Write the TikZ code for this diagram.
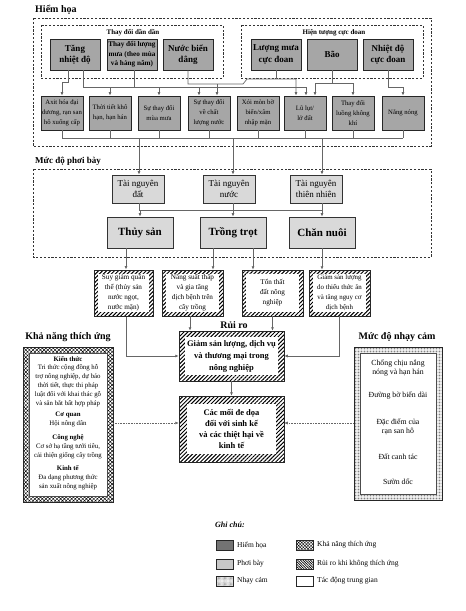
\documentclass[tikz,border=0pt]{standalone}
\usepackage{fontspec}
\setmainfont{Liberation Serif}
\usetikzlibrary{arrows.meta,patterns.meta}
\newcommand\fsz[2]{\fontsize{#1}{#2}\selectfont}
\begin{document}
\begin{tikzpicture}[x=1pt,y=1pt,
  frame/.style={draw=black!80, line width=0.8pt, dash pattern=on 2.2pt off 1.6pt},
  conn/.style={draw=black!60, line width=0.7pt},
  arr/.style={conn, -{Latex[length=3.5pt,width=3pt]}},
  dotarr/.style={draw=black!60, line width=0.6pt, dash pattern=on 0.8pt off 0.8pt, -{Latex[length=3.5pt,width=3pt]}},
  hz/.style={draw=black!85, line width=0.8pt, fill=black!35, align=center, inner sep=0.5pt, font=\bfseries\fsz{9}{11.5}, minimum width=50pt, minimum height=31pt},
  hzs/.style={draw=black!85, line width=0.8pt, fill=black!35, align=center, inner sep=0.3pt, font=\fsz{6.7}{9.8}, minimum width=42pt, minimum height=34pt},
  ex/.style={draw=black!80, line width=0.7pt, fill=black!15, align=center, inner sep=0.5pt, font=\fsz{9}{11.5}, minimum width=52pt, minimum height=28pt},
  exb/.style={ex, font=\bfseries\fsz{11}{13}, minimum width=66pt, minimum height=31pt},
  band/.style={path picture={\fill[white] ([shift={(#1,-#1)}]path picture bounding box.north west) rectangle ([shift={(-#1,#1)}]path picture bounding box.south east);}},
  bandd/.style={path picture={\filldraw[fill=white, draw=black!70, line width=0.4pt] ([shift={(#1,-#1)}]path picture bounding box.north west) rectangle ([shift={(-#1,#1)}]path picture bounding box.south east);}},
  risk/.style={draw=black!85, line width=0.5pt, pattern={Lines[angle=45,distance=2.8pt,line width=1pt]}, band=4pt, align=center, inner sep=0pt, font=\fsz{7.2}{10}, minimum width=61pt, minimum height=46pt},
  riskb/.style={risk, font=\bfseries\fsz{8.5}{12}, minimum width=105pt},
  knbox/.style={draw=black!85, line width=0.5pt, pattern={Hatch[angle=45,distance=2.6pt,line width=0.45pt]}, bandd=6pt, minimum width=90pt, minimum height=155pt, inner sep=0pt},
  ncbox/.style={draw=black!85, line width=0.5pt, pattern={Dots[distance=1.5pt,radius=0.45pt]}, pattern color=black!75, bandd=6pt, minimum width=88pt, minimum height=153pt, inner sep=0pt},
  knt/.style={align=center, inner sep=0pt, font=\fsz{6.8}{8.8}},
  nct/.style={align=center, inner sep=0pt, font=\fsz{7.8}{9.5}},
  title/.style={font=\bfseries\fsz{10}{12}, inner sep=0pt},
  lab/.style={font=\bfseries\fsz{7}{8}, inner sep=0pt},
  sw/.style={draw=black!85, line width=0.5pt, minimum width=17pt, minimum height=10pt, inner sep=0pt},
  lt/.style={font=\fsz{7.5}{9}, anchor=west, inner sep=0pt}
]
\useasboundingbox (0,0) rectangle (466,-611);

% ---------------- Hiem hoa ----------------
\node[title, anchor=west] (tHz) at (35,-10) {Hiểm họa};
\draw[frame] (33,-18) rectangle (431,-146);
\draw[frame] (41,-25) rectangle (223,-78);
\draw[frame] (241,-25) rectangle (423,-78);
\node[lab] (lGrad) at (133,-32.5) {Thay đổi dần dần};
\node[lab] (lExt) at (334,-32.5) {Hiện tượng cực đoan};

\node[hz] (tang) at (75,-54.5) {Tăng\\nhiệt độ};
\node[hz, font=\bfseries\fsz{7.2}{9.4}] (luongmua) at (132,-54.5) {Thay đổi lượng\\mưa (theo mùa\\và hàng năm)};
\node[hz] (nuocbien) at (188,-54.5) {Nước biển\\dâng};
\node[hz] (mucd) at (276,-54.5) {Lượng mưa\\cực đoan};
\node[hz] (bao) at (332,-54.5) {Bão};
\node[hz] (nhietcd) at (388,-54.5) {Nhiệt độ\\cực đoan};

\node[hzs] (r1) at (62,-113) {Axit hóa đại\\dương, rạn san\\hô xuống cấp};
\node[hzs] (r2) at (110,-113) {Thời tiết khô\\hạn, hạn hán};
\node[hzs] (r3) at (159,-113) {Sự thay đổi\\mùa mưa};
\node[hzs] (r4) at (209,-113) {Sự thay đổi\\về chất\\lượng nước};
\node[hzs] (r5) at (258,-113) {Xói mòn bờ\\biển/xâm\\nhập mặn};
\node[hzs] (r6) at (305,-113) {Lũ lụt/\\lở đất};
\node[hzs] (r7) at (353,-113) {Thay đổi\\luồng không\\khí};
\node[hzs] (r8) at (403,-113) {Nắng nóng};

\coordinate (r4a) at ([xshift=-10pt]r4.north);
\coordinate (r4b) at ([xshift=8pt]r4.north);
\coordinate (r6a) at ([xshift=-9pt]r6.north);
\coordinate (r6b) at ([xshift=1pt]r6.north);
\coordinate (r6c) at ([xshift=10pt]r6.north);

\draw[arr] ([xshift=-7pt]tang.south) -- ++(0,-12) -| (r1.north);
\draw[arr] ([xshift=8pt]tang.south) |- (r6b |- 0,-87) -- (r6b);
\draw[conn] ([xshift=2pt]luongmua.south) -- ++(0,-17);
\draw[arr] (r2.north |- 0,-87) -- (r2.north);
\draw[arr] (r3.north |- 0,-87) -- (r3.north);
\draw[arr] (r4a |- 0,-87) -- (r4a);
\draw[arr] (nuocbien.south) |- (243,-84) -- (247,-79) -| (r6a);
\draw[arr] (r4b |- 0,-84) -- (r4b);
\draw[conn] (mucd.south) -- (mucd.south |- 0,-79);
\draw[conn] (bao.south) -- (bao.south |- 0,-83);
\draw[arr] (bao.south |- 0,-83) -| (r6c);
\draw[arr] (bao.south |- 0,-83) -| (r7.north);
\draw[arr] (nhietcd.south) |- (r8.north |- 0,-87) -- (r8.north);

\foreach \n in {r1,r2,r3,r4,r5,r6,r7,r8}
  \draw[conn] (\n.south) -- (\n.south |- 0,-138);
\draw[conn] (r1.south |- 0,-138) -- (r8.south |- 0,-138);

% ---------------- Muc do phoi bay ----------------
\node[title, anchor=west, font=\bfseries\fsz{9}{11}] (tEx) at (35,-161.5) {Mức độ phơi bày};
\draw[frame] (33,-169) rectangle (431,-257);

\node[ex] (tn1) at (138,-189) {Tài nguyên\\đất};
\node[ex] (tn2) at (229,-189) {Tài nguyên\\nước};
\node[ex] (tn3) at (316,-189) {Tài nguyên\\thiên nhiên};
\coordinate (tn1a) at ([xshift=1pt]tn1.north);
\coordinate (tn2a) at ([xshift=4pt]tn2.north);
\coordinate (tn3a) at ([xshift=6pt]tn3.north);
\draw[arr] (tn1a |- 0,-138) -- (tn1a);
\draw[arr] (tn2a |- 0,-138) -- (tn2a);
\draw[arr] (tn3a |- 0,-138) -- (tn3a);

\node[exb] (thuysan) at (140,-232.5) {Thủy sản};
\node[exb] (trongtrot) at (233,-232.5) {Trồng trọt};
\node[exb] (channuoi) at (322,-232.5) {Chăn nuôi};

\coordinate (tn1b) at ([xshift=1pt]tn1.south);
\coordinate (tn2b) at ([xshift=4pt]tn2.south);
\coordinate (tn3b) at ([xshift=6pt]tn3.south);
\draw[conn] (tn1b) -- (tn1b |- 0,-210);
\draw[conn] (tn2b) -- (tn2b |- 0,-210);
\draw[conn] (tn3b) -- (tn3b |- 0,-210);
\draw[conn] (tn1b |- 0,-210) -- (tn3b |- 0,-210);
\draw[arr] (thuysan.north |- 0,-210) -- (thuysan.north);
\draw[arr] (trongtrot.north |- 0,-210) -- (trongtrot.north);
\draw[arr] (channuoi.north |- 0,-210) -- (channuoi.north);

% ---------------- Rui ro ----------------
\node[risk] (rk1) at (123.5,-293) [minimum width=59pt] {Suy giảm quần\\thể (thủy sản\\nước ngọt,\\nước mặn)};
\node[risk] (rk2) at (192.5,-293) {Năng suất thấp\\và gia tăng\\dịch bệnh trên\\cây trồng};
\node[risk] (rk3) at (272.5,-293) {Tổn thất\\đất nông\\nghiệp};
\node[risk, font=\fsz{6.9}{10}] (rk4) at (339.5,-293) {Giảm sản lượng\\do thiếu thức ăn\\và tăng nguy cơ\\dịch bệnh};

\coordinate (ts1) at ([xshift=-14pt]thuysan.south);
\coordinate (tt1) at ([xshift=-20pt]trongtrot.south);
\coordinate (tt2) at ([xshift=20pt]trongtrot.south);
\draw[arr] (ts1) -- (ts1 |- rk1.north);
\draw[arr] (tt1) -- (tt1 |- rk2.north);
\draw[arr] (tt2) -- (tt2 |- rk3.north);
\draw[arr] (channuoi.south) -- (channuoi.south |- rk4.north);

\node[title] (tRisk) at (234,-325) {Rủi ro};
\node[riskb, minimum height=50pt, band=6pt] (rr1) at (231.5,-356) {Giảm sản lượng, dịch vụ\\và thương mại trong\\nông nghiệp};
\node[riskb, minimum height=66pt, band=8pt, font=\bfseries\fsz{8.5}{11}] (rr2) at (231.5,-429) {Các mối đe dọa\\đối với sinh kế\\và các thiệt hại về\\kinh tế};

\coordinate (k1) at ([xshift=2.5pt]rk1.south);
\coordinate (k2) at ([xshift=-2.5pt]rk2.south);
\draw[arr] (k1) |- (rr1.west);
\draw[arr] (k2) -- (k2 |- rr1.north);
\draw[arr] (rk3.south) -- (rk3.south |- rr1.north);
\draw[arr] (rk4.south) |- (rr1.east);
\draw[arr] (rr1.south) -- (rr2.north);

% ---------------- Kha nang thich ung ----------------
\node[title] (tKn) at (68,-337) {Khả năng thích ứng};
\node[knbox] (kn) at (68,-424.5) {};
\node[knt] (kntext) at (68,-423) {\textbf{Kiến thức}\\Tri thức cộng đồng hỗ\\trợ nông nghiệp, dự báo\\thời tiết, thực thi pháp\\luật đối với khai thác gỗ\\và săn bắt bất hợp pháp\\[3pt]\textbf{Cơ quan}\\Hội nông dân\\[5pt]\textbf{Công nghệ}\\Cơ sở hạ tầng tưới tiêu,\\cải thiện giống cây trồng\\[5pt]\textbf{Kinh tế}\\Đa dạng phương thức\\sản xuất nông nghiệp};

% ---------------- Muc do nhay cam ----------------
\node[title] (tNc) at (397,-337) {Mức độ nhạy cảm};
\node[ncbox] (nc) at (398,-423.5) {};
\node[nct] (nc1) at (398,-368) {Chống chịu nắng\\nóng và hạn hán};
\node[nct] (nc2) at (398,-396) {Đường bờ biển dài};
\node[nct] (nc3) at (398,-427) {Đặc điểm của\\rạn san hô};
\node[nct] (nc4) at (398,-457) {Đất canh tác};
\node[nct] (nc5) at (398,-482) {Sườn dốc};

\coordinate (rr2w) at ([yshift=6pt]rr2.west);
\coordinate (rr2e) at ([yshift=6pt]rr2.east);
\draw[dotarr] (kn.east |- rr2w) -- (rr2w);
\draw[dotarr] (nc.west |- rr2e) -- (rr2e);

% ---------------- Legend ----------------
\node[anchor=west, inner sep=0pt, font=\bfseries\itshape\fsz{8}{9}] (ghichu) at (215,-525) {Ghi chú:};
\node[sw, fill=black!55] (lg1) at (224.5,-545) {};
\node[lt] (lt1) at (237,-545) {Hiểm họa};
\node[sw, fill=black!22] (lg2) at (224.5,-564) {};
\node[lt] (lt2) at (237,-564) {Phơi bày};
\node[sw, pattern={Dots[distance=1.2pt,radius=0.35pt]}, pattern color=black!55] (lg3) at (224.5,-581) {};
\node[lt] (lt3) at (237,-581) {Nhạy cảm};
\node[sw, pattern={Hatch[angle=45,distance=2.2pt,line width=0.4pt]}] (lg4) at (304.5,-545) {};
\node[lt] (lt4) at (317,-545) {Khả năng thích ứng};
\node[sw, pattern={Lines[angle=-45,distance=1.8pt,line width=0.7pt]}] (lg5) at (304.5,-564) {};
\node[lt] (lt5) at (317,-564) {Rủi ro khi không thích ứng};
\node[sw, fill=white] (lg6) at (304.5,-581) {};
\node[lt] (lt6) at (317,-581) {Tác động trung gian};
\end{tikzpicture}
\end{document}
